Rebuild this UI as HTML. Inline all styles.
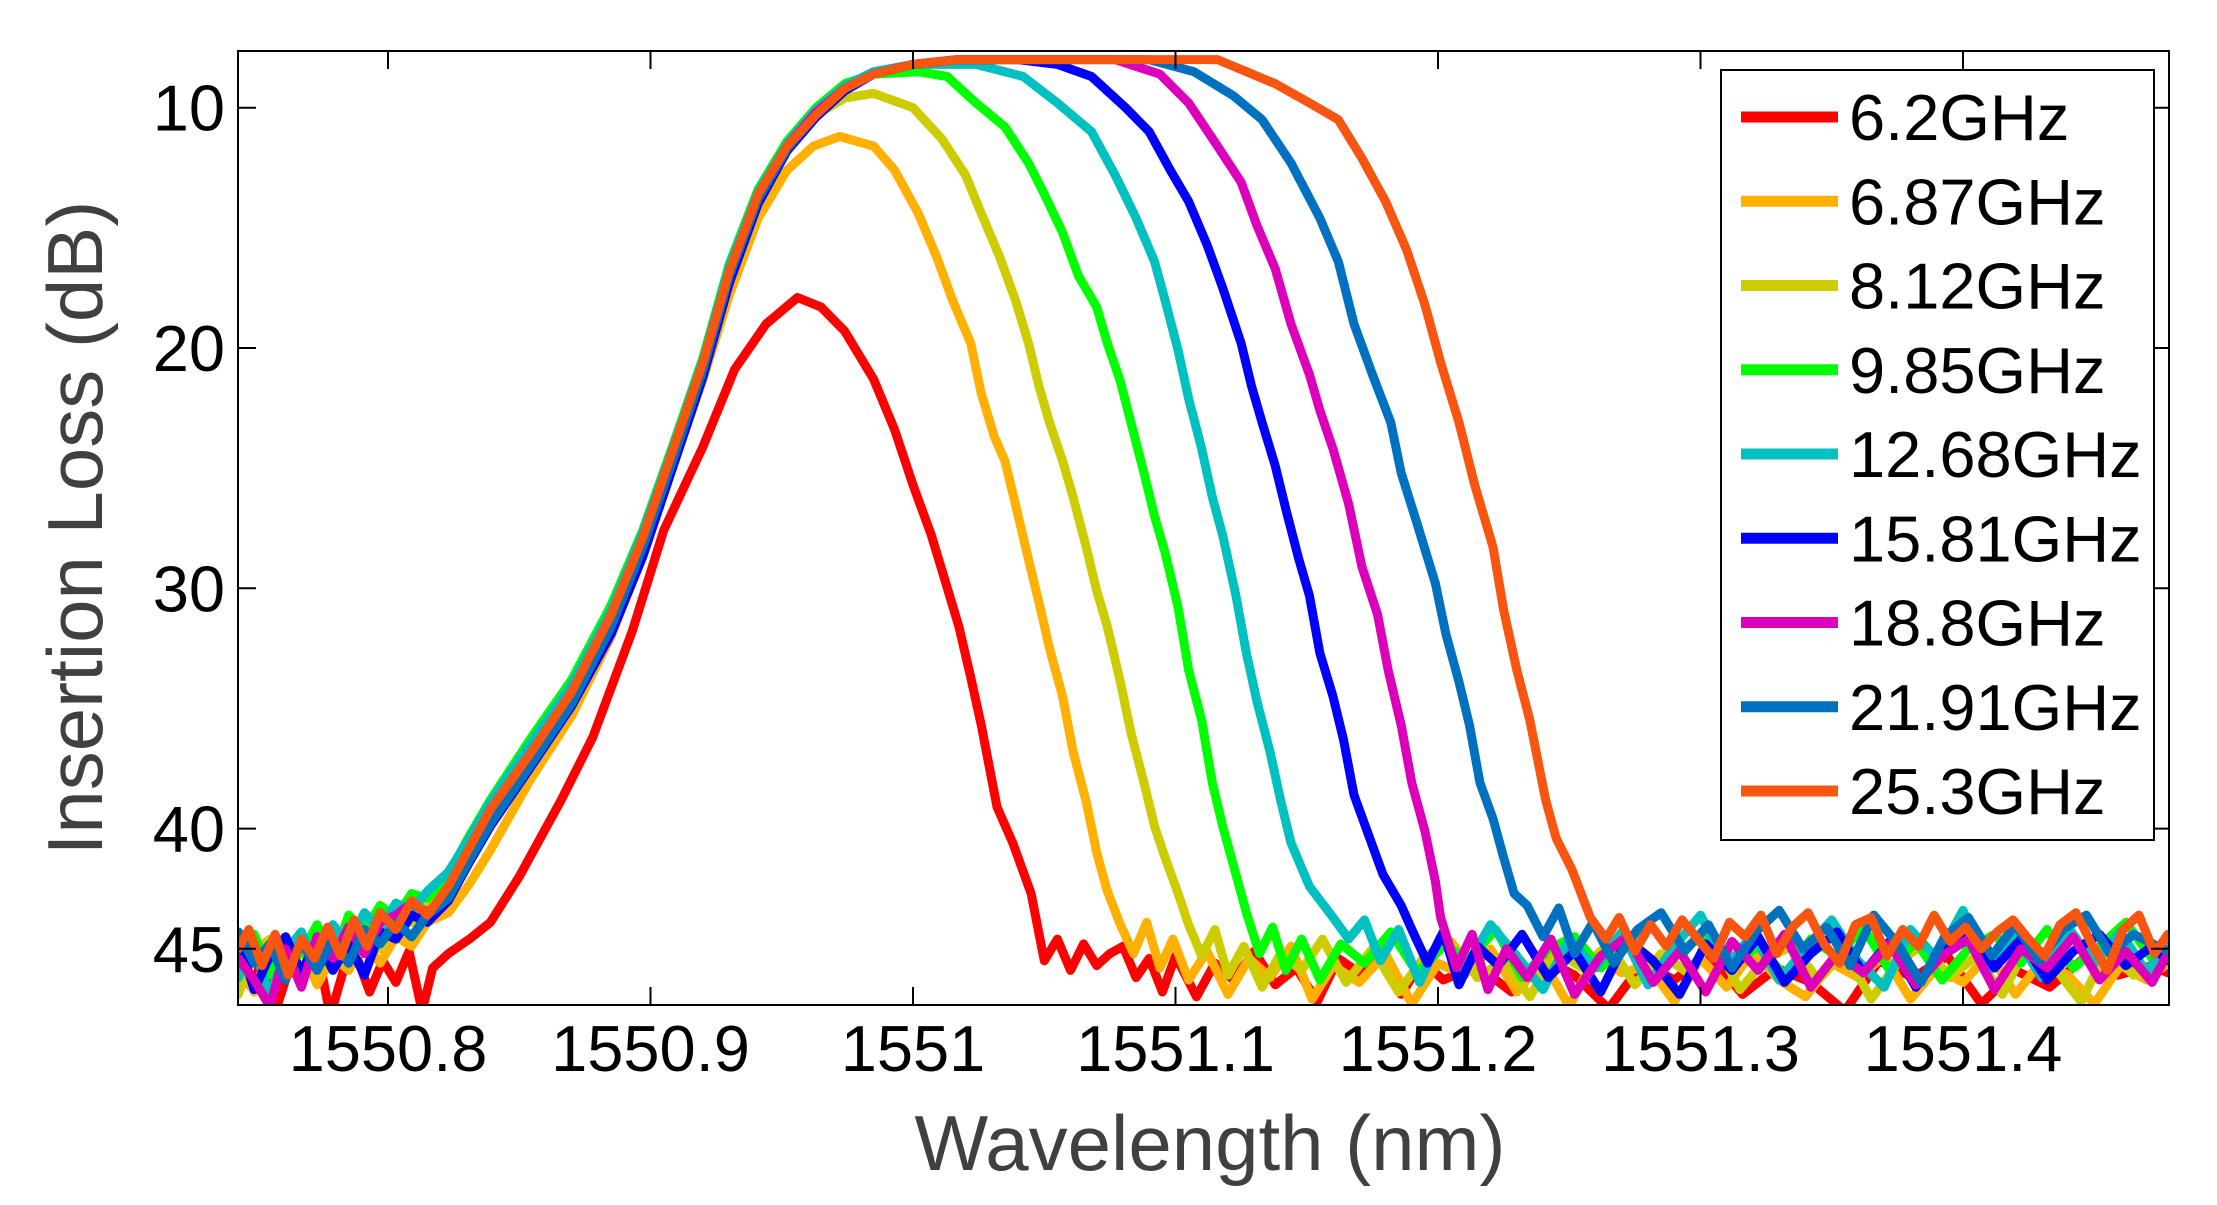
<!DOCTYPE html>
<html><head><meta charset="utf-8"><style>
html,body{margin:0;padding:0;background:#fff;}
svg{display:block;font-family:"Liberation Sans",Arial,sans-serif;}
</style></head><body>
<svg id="chart" width="2217" height="1205" viewBox="0 0 2217 1205" xmlns="http://www.w3.org/2000/svg">
<rect x="0" y="0" width="2217" height="1205" fill="#fff"/>
<g id="series"></g>
<g id="axes"></g>
<text transform="translate(102,528) rotate(-90)" text-anchor="middle" font-size="78" fill="#404040">Insertion Loss (dB)</text>
<text x="1210" y="1170" text-anchor="middle" font-size="78" fill="#404040">Wavelength (nm)</text>
<g id="legend"></g>
</svg>
<script>
const xTicks = [1550.8, 1550.9, 1551, 1551.1, 1551.2, 1551.3, 1551.4];
const xTickLabels = ["1550.8","1550.9","1551","1551.1","1551.2","1551.3","1551.4"];
const yTicks = [10, 20, 30, 40, 45];
const yTickLabels = ["10","20","30","40","45"];
const seriesNames = ["6.2GHz","6.87GHz","8.12GHz","9.85GHz","12.68GHz","15.81GHz","18.8GHz","21.91GHz","25.3GHz"];
const seriesColors = ["#ff0000","#ffb000","#cccc00","#00ff00","#00c0c0","#0000ff","#dd00bb","#0070c0","#f85510"];

const s1 = [[1550.743,45.8],[1550.748,46.6],[1550.753,45.2],[1550.758,47.3],[1550.763,45.6],[1550.768,46.2],[1550.773,45.0],[1550.778,47.8],[1550.783,45.9],[1550.788,45.3],[1550.793,46.8],[1550.798,45.5],[1550.803,46.4],[1550.808,45.1],[1550.813,47.6],[1550.817,45.8],[1550.823,45.2],[1550.831,44.6],[1550.839,43.9],[1550.850,42.0],[1550.866,38.8],[1550.878,36.2],[1550.893,31.8],[1550.905,27.6],[1550.920,24.1],[1550.932,20.9],[1550.944,19.0],[1550.956,17.9],[1550.965,18.3],[1550.974,19.3],[1550.985,21.3],[1550.993,23.4],[1551.0,25.7],[1551.007,27.8],[1551.012,29.6],[1551.0175,31.6],[1551.022,33.7],[1551.026,35.7],[1551.032,39.1],[1551.038,40.6],[1551.045,42.7],[1551.050,45.5],[1551.055,44.6],[1551.060,45.9],[1551.065,44.8],[1551.070,45.7],[1551.075,45.2],[1551.080,44.9],[1551.085,46.2],[1551.090,45.4],[1551.095,46.8],[1551.100,45.3],[1551.108,47.0],[1551.115,45.6],[1551.122,46.3],[1551.130,45.1],[1551.138,46.5],[1551.146,45.8],[1551.154,47.2],[1551.162,45.4],[1551.170,46.0],[1551.178,45.2],[1551.186,46.9],[1551.194,45.5],[1551.202,46.3],[1551.215,45.7],[1551.228,46.8],[1551.240,45.4],[1551.252,46.1],[1551.265,47.5],[1551.278,45.6],[1551.290,46.3],[1551.303,45.2],[1551.316,46.9],[1551.329,45.8],[1551.342,46.4],[1551.355,47.6],[1551.368,45.5],[1551.381,46.2],[1551.394,45.3],[1551.407,47.3],[1551.420,45.9],[1551.433,46.6],[1551.446,45.4],[1551.459,46.1],[1551.472,45.7],[1551.478,46.0]];
const s2 = [[1550.743,45.5],[1550.749,46.8],[1550.755,45.0],[1550.761,46.2],[1550.767,44.9],[1550.773,46.5],[1550.779,45.3],[1550.785,45.9],[1550.791,44.7],[1550.797,45.6],[1550.803,44.5],[1550.809,44.9],[1550.815,43.9],[1550.823,43.5],[1550.831,42.3],[1550.839,40.9],[1550.854,38.0],[1550.870,35.3],[1550.885,32.0],[1550.897,28.6],[1550.909,24.8],[1550.920,21.3],[1550.930,17.8],[1550.941,14.6],[1550.952,12.6],[1550.962,11.6],[1550.972,11.2],[1550.985,11.6],[1550.993,12.6],[1551.002,14.4],[1551.009,16.2],[1551.015,18.0],[1551.022,19.8],[1551.026,21.9],[1551.031,23.7],[1551.035,24.7],[1551.039,26.5],[1551.044,28.8],[1551.048,30.6],[1551.052,32.5],[1551.057,34.5],[1551.061,36.8],[1551.066,38.9],[1551.070,41.0],[1551.074,42.6],[1551.079,44.0],[1551.084,45.2],[1551.089,43.9],[1551.094,45.8],[1551.099,44.6],[1551.105,46.3],[1551.112,45.1],[1551.120,46.9],[1551.128,45.4],[1551.136,46.2],[1551.144,44.9],[1551.152,47.1],[1551.160,45.7],[1551.170,46.4],[1551.180,45.2],[1551.190,47.3],[1551.200,45.6],[1551.210,46.1],[1551.220,45.0],[1551.230,46.8],[1551.240,45.5],[1551.250,47.4],[1551.260,45.3],[1551.270,46.0],[1551.280,45.7],[1551.290,47.2],[1551.300,45.4],[1551.310,46.6],[1551.320,45.1],[1551.330,46.3],[1551.340,47.0],[1551.350,45.6],[1551.360,46.2],[1551.370,45.3],[1551.380,47.1],[1551.390,45.8],[1551.400,46.4],[1551.410,45.2],[1551.420,46.9],[1551.430,45.5],[1551.440,46.1],[1551.450,47.3],[1551.460,45.7],[1551.470,46.3],[1551.478,45.6]];
const s3 = [[1550.743,46.9],[1550.749,45.1],[1550.755,44.6],[1550.761,46.0],[1550.767,44.8],[1550.773,45.7],[1550.779,44.3],[1550.785,45.4],[1550.791,44.1],[1550.797,45.0],[1550.803,43.8],[1550.809,43.9],[1550.815,43.0],[1550.823,42.6],[1550.831,41.0],[1550.839,39.5],[1550.854,37.1],[1550.870,34.5],[1550.885,31.3],[1550.897,28.0],[1550.909,24.2],[1550.920,20.7],[1550.930,16.9],[1550.941,13.8],[1550.952,11.7],[1550.963,10.3],[1550.974,9.6],[1550.985,9.4],[1551.0,10.0],[1551.011,11.3],[1551.020,12.8],[1551.026,14.4],[1551.033,16.2],[1551.039,18.0],[1551.044,19.8],[1551.048,21.6],[1551.052,23.1],[1551.057,24.7],[1551.061,26.2],[1551.066,28.3],[1551.070,30.1],[1551.074,31.6],[1551.079,33.9],[1551.083,36.0],[1551.088,38.1],[1551.092,39.9],[1551.096,41.2],[1551.101,42.7],[1551.105,44.0],[1551.110,45.3],[1551.115,44.2],[1551.120,46.1],[1551.126,44.9],[1551.133,46.6],[1551.140,45.2],[1551.148,45.9],[1551.156,44.6],[1551.165,46.4],[1551.175,45.0],[1551.185,46.8],[1551.195,45.3],[1551.205,44.7],[1551.215,46.2],[1551.225,45.5],[1551.235,47.0],[1551.245,45.1],[1551.255,45.8],[1551.265,44.8],[1551.275,46.5],[1551.285,45.2],[1551.295,46.0],[1551.305,44.6],[1551.315,46.7],[1551.325,45.4],[1551.335,44.9],[1551.345,46.3],[1551.355,45.1],[1551.365,47.1],[1551.375,45.6],[1551.385,44.8],[1551.395,46.2],[1551.405,45.3],[1551.415,46.9],[1551.425,44.7],[1551.435,45.8],[1551.445,47.2],[1551.455,45.0],[1551.465,46.1],[1551.478,45.4]];
const s4 = [[1550.743,45.9],[1550.749,44.4],[1550.755,46.1],[1550.761,44.7],[1550.767,45.2],[1550.773,44.0],[1550.779,45.6],[1550.785,43.6],[1550.791,44.3],[1550.797,43.2],[1550.803,43.7],[1550.809,42.7],[1550.815,42.9],[1550.823,41.9],[1550.831,40.3],[1550.839,38.8],[1550.854,36.3],[1550.870,33.8],[1550.885,30.7],[1550.897,27.6],[1550.909,23.9],[1550.920,20.4],[1550.930,16.5],[1550.941,13.4],[1550.952,11.4],[1550.963,10.0],[1550.974,9.0],[1550.985,8.6],[1551.002,8.5],[1551.013,8.7],[1551.024,9.8],[1551.035,10.8],[1551.044,12.3],[1551.050,13.6],[1551.057,15.2],[1551.063,17.0],[1551.070,18.3],[1551.074,19.8],[1551.079,21.4],[1551.083,23.1],[1551.088,25.2],[1551.092,27.0],[1551.096,28.5],[1551.101,30.8],[1551.105,33.4],[1551.110,35.5],[1551.114,38.1],[1551.118,39.9],[1551.123,41.9],[1551.127,43.5],[1551.132,45.2],[1551.137,44.1],[1551.142,45.9],[1551.148,44.6],[1551.155,46.3],[1551.163,44.8],[1551.172,45.6],[1551.182,44.3],[1551.192,46.0],[1551.202,44.9],[1551.212,45.4],[1551.222,44.2],[1551.232,46.2],[1551.242,45.0],[1551.252,44.5],[1551.262,45.8],[1551.272,44.7],[1551.282,46.4],[1551.292,45.1],[1551.302,44.4],[1551.312,45.7],[1551.322,44.9],[1551.332,46.1],[1551.342,44.6],[1551.352,45.3],[1551.362,44.1],[1551.372,45.9],[1551.382,44.7],[1551.392,46.3],[1551.402,45.0],[1551.412,44.4],[1551.422,45.6],[1551.432,44.2],[1551.442,45.8],[1551.452,44.9],[1551.462,43.9],[1551.472,45.4],[1551.478,44.8]];
const s5 = [[1550.743,46.2],[1550.749,44.9],[1550.755,47.0],[1550.761,45.1],[1550.767,44.3],[1550.773,45.8],[1550.779,44.0],[1550.785,44.9],[1550.791,43.5],[1550.797,44.2],[1550.803,43.1],[1550.809,43.4],[1550.815,42.6],[1550.823,41.8],[1550.831,40.4],[1550.839,38.9],[1550.854,36.5],[1550.870,34.0],[1550.885,30.9],[1550.897,27.7],[1550.909,24.0],[1550.920,20.5],[1550.930,16.6],[1550.941,13.5],[1550.952,11.5],[1550.963,10.1],[1550.974,9.1],[1550.985,8.5],[1551.0,8.2],[1551.024,8.2],[1551.042,8.7],[1551.055,9.8],[1551.068,11.0],[1551.077,12.8],[1551.085,14.6],[1551.092,16.4],[1551.096,18.0],[1551.101,20.1],[1551.105,22.1],[1551.110,24.2],[1551.114,26.2],[1551.118,27.8],[1551.123,30.3],[1551.127,32.7],[1551.131,34.7],[1551.136,36.8],[1551.140,38.8],[1551.144,40.6],[1551.151,42.4],[1551.160,43.7],[1551.166,44.6],[1551.172,43.8],[1551.178,45.5],[1551.185,44.2],[1551.193,46.4],[1551.201,44.5],[1551.210,45.9],[1551.220,44.0],[1551.230,45.3],[1551.240,46.7],[1551.250,44.6],[1551.260,45.8],[1551.270,44.3],[1551.280,46.5],[1551.290,44.9],[1551.300,43.6],[1551.310,45.7],[1551.320,44.4],[1551.330,46.3],[1551.340,45.0],[1551.350,43.8],[1551.360,45.5],[1551.370,46.6],[1551.380,44.2],[1551.390,45.4],[1551.400,43.4],[1551.410,45.9],[1551.420,44.5],[1551.430,46.2],[1551.440,44.1],[1551.450,45.6],[1551.460,44.3],[1551.470,46.0],[1551.478,44.7]];
const s6 = [[1550.743,44.6],[1550.749,46.7],[1550.755,45.3],[1550.761,44.5],[1550.767,46.0],[1550.773,44.6],[1550.779,45.9],[1550.785,44.8],[1550.791,46.1],[1550.797,44.3],[1550.803,44.6],[1550.809,43.6],[1550.815,43.9],[1550.823,43.0],[1550.831,41.4],[1550.839,39.9],[1550.854,37.5],[1550.870,34.9],[1550.885,31.9],[1550.897,28.7],[1550.909,24.8],[1550.920,21.2],[1550.930,17.3],[1550.941,14.0],[1550.952,11.8],[1550.963,10.4],[1550.974,9.3],[1550.985,8.6],[1551.0,8.2],[1551.017,8.0],[1551.040,8.0],[1551.055,8.2],[1551.068,8.7],[1551.081,10.0],[1551.090,11.0],[1551.098,12.6],[1551.105,13.9],[1551.112,15.7],[1551.118,17.5],[1551.125,19.8],[1551.129,21.6],[1551.133,23.1],[1551.138,24.9],[1551.142,26.7],[1551.147,28.8],[1551.151,30.3],[1551.155,32.7],[1551.160,34.5],[1551.164,36.3],[1551.168,38.6],[1551.173,40.1],[1551.179,41.9],[1551.186,43.2],[1551.190,44.2],[1551.196,45.6],[1551.202,44.3],[1551.208,46.5],[1551.215,44.9],[1551.223,45.7],[1551.232,44.4],[1551.242,46.2],[1551.252,45.1],[1551.262,46.8],[1551.272,44.6],[1551.282,45.5],[1551.292,46.9],[1551.302,44.8],[1551.312,45.9],[1551.322,44.5],[1551.332,46.4],[1551.342,45.2],[1551.352,44.3],[1551.362,46.0],[1551.372,44.7],[1551.382,46.6],[1551.392,45.0],[1551.402,44.2],[1551.412,45.8],[1551.422,44.6],[1551.432,46.3],[1551.442,45.1],[1551.452,44.4],[1551.462,45.7],[1551.472,44.9],[1551.478,45.5]];
const s7 = [[1550.743,45.4],[1550.749,46.3],[1550.755,47.4],[1550.761,45.0],[1550.767,46.6],[1550.773,44.5],[1550.779,45.4],[1550.785,44.1],[1550.791,45.2],[1550.797,43.9],[1550.803,43.6],[1550.809,43.1],[1550.815,43.5],[1550.823,42.7],[1550.831,41.1],[1550.839,39.6],[1550.854,37.2],[1550.870,34.6],[1550.885,31.4],[1550.897,28.1],[1550.909,24.3],[1550.920,20.8],[1550.930,16.9],[1550.941,13.7],[1550.952,11.6],[1550.963,10.2],[1550.974,9.2],[1550.985,8.6],[1551.0,8.2],[1551.017,8.0],[1551.077,8.0],[1551.094,8.6],[1551.105,9.8],[1551.116,11.6],[1551.125,13.1],[1551.131,14.9],[1551.138,16.7],[1551.144,19.0],[1551.151,21.1],[1551.155,22.6],[1551.160,24.2],[1551.166,26.5],[1551.171,29.1],[1551.177,31.1],[1551.181,33.4],[1551.186,35.7],[1551.190,38.1],[1551.195,40.1],[1551.199,42.2],[1551.201,43.7],[1551.207,45.8],[1551.213,44.4],[1551.219,46.7],[1551.226,45.0],[1551.234,46.2],[1551.243,44.6],[1551.252,46.9],[1551.262,45.3],[1551.272,44.5],[1551.282,46.4],[1551.292,45.1],[1551.302,46.8],[1551.312,44.7],[1551.322,45.9],[1551.332,44.4],[1551.342,46.6],[1551.352,45.2],[1551.362,46.0],[1551.372,44.8],[1551.382,46.5],[1551.392,45.3],[1551.402,44.6],[1551.412,46.7],[1551.422,45.0],[1551.432,45.8],[1551.442,44.5],[1551.452,46.3],[1551.462,45.1],[1551.472,46.4],[1551.478,45.2]];
const s8 = [[1550.743,44.3],[1550.749,45.6],[1550.755,44.8],[1550.761,46.3],[1550.767,44.7],[1550.773,45.9],[1550.779,44.6],[1550.785,45.6],[1550.791,44.2],[1550.797,44.8],[1550.803,43.9],[1550.809,44.5],[1550.815,43.6],[1550.823,42.9],[1550.831,41.3],[1550.839,39.8],[1550.854,37.4],[1550.870,34.8],[1550.885,31.6],[1550.897,28.3],[1550.909,24.5],[1550.920,20.9],[1550.930,17.0],[1550.941,13.8],[1550.952,11.7],[1550.963,10.3],[1550.974,9.2],[1550.985,8.6],[1551.0,8.2],[1551.017,8.0],[1551.090,8.0],[1551.107,8.5],[1551.122,9.5],[1551.133,10.5],[1551.144,12.3],[1551.155,14.6],[1551.162,16.4],[1551.168,19.0],[1551.175,21.1],[1551.182,23.1],[1551.186,25.2],[1551.192,27.3],[1551.199,29.8],[1551.203,31.9],[1551.208,33.9],[1551.212,35.7],[1551.216,38.1],[1551.221,39.6],[1551.225,41.2],[1551.229,42.7],[1551.234,43.2],[1551.240,44.5],[1551.246,43.3],[1551.252,45.2],[1551.259,43.9],[1551.267,45.6],[1551.276,44.2],[1551.285,43.5],[1551.294,45.1],[1551.303,44.0],[1551.312,45.8],[1551.321,44.3],[1551.330,43.4],[1551.339,45.0],[1551.348,44.1],[1551.357,45.7],[1551.366,43.6],[1551.375,44.8],[1551.384,46.4],[1551.393,44.5],[1551.402,43.7],[1551.411,45.3],[1551.420,44.0],[1551.429,45.5],[1551.438,44.2],[1551.447,43.6],[1551.456,45.2],[1551.465,44.4],[1551.478,45.1]];
const s9 = [[1550.743,45.0],[1550.747,44.2],[1550.752,45.7],[1550.757,44.4],[1550.762,46.1],[1550.767,44.6],[1550.772,45.4],[1550.777,44.1],[1550.782,45.3],[1550.787,43.8],[1550.792,44.9],[1550.797,43.5],[1550.803,44.2],[1550.809,43.0],[1550.815,43.6],[1550.823,42.4],[1550.831,40.8],[1550.839,39.2],[1550.854,36.9],[1550.870,34.3],[1550.885,31.1],[1550.897,27.9],[1550.909,24.1],[1550.920,20.6],[1550.930,16.8],[1550.941,13.6],[1550.952,11.6],[1550.963,10.3],[1550.974,9.2],[1550.985,8.6],[1551.0,8.2],[1551.017,8.0],[1551.116,8.0],[1551.127,8.5],[1551.138,9.0],[1551.151,9.8],[1551.162,10.5],[1551.171,12.1],[1551.180,13.9],[1551.188,15.9],[1551.195,18.2],[1551.201,20.6],[1551.208,23.1],[1551.214,25.7],[1551.221,28.3],[1551.225,30.9],[1551.230,33.4],[1551.235,35.5],[1551.241,38.8],[1551.245,40.4],[1551.251,41.7],[1551.258,43.7],[1551.264,44.6],[1551.269,43.7],[1551.275,45.1],[1551.281,44.0],[1551.287,44.9],[1551.293,43.8],[1551.299,44.6],[1551.305,45.4],[1551.311,43.9],[1551.317,44.5],[1551.323,43.6],[1551.329,45.2],[1551.335,44.1],[1551.341,43.5],[1551.347,44.8],[1551.353,45.6],[1551.359,44.0],[1551.365,43.7],[1551.371,45.3],[1551.377,44.2],[1551.383,44.9],[1551.389,43.6],[1551.395,44.7],[1551.401,44.1],[1551.407,45.0],[1551.413,44.3],[1551.419,43.8],[1551.425,44.6],[1551.431,45.3],[1551.437,44.0],[1551.443,43.5],[1551.449,44.8],[1551.455,45.9],[1551.461,44.2],[1551.467,43.6],[1551.473,45.2],[1551.478,44.4]];
const allSeries = [s1, s2, s3, s4, s5, s6, s7, s8, s9];

const NS = "http://www.w3.org/2000/svg";
const PL = 238, PR = 2169, PT = 51, PB = 1005;
const X0 = 1550.8, XPX0 = 388, XSCALE = 2625;
const Y0 = 10, YPX0 = 107.7, YSCALE = 24.03;
function xScale(v){ return XPX0 + (v - X0) * XSCALE; }
function yScale(v){ return YPX0 + (v - Y0) * YSCALE; }

const svg = document.getElementById('chart');
const defs = document.createElementNS(NS, 'defs');
defs.innerHTML = '<clipPath id="plotclip"><rect x="'+PL+'" y="'+PT+'" width="'+(PR-PL)+'" height="'+(PB-PT)+'"/></clipPath>';
svg.insertBefore(defs, svg.firstChild);

const gS = document.getElementById('series');
gS.setAttribute('clip-path', 'url(#plotclip)');
allSeries.forEach(function(s, i){
  const p = document.createElementNS(NS, 'path');
  let d = '';
  s.forEach(function(pt, j){ d += (j ? 'L' : 'M') + xScale(pt[0]).toFixed(1) + ',' + yScale(pt[1]).toFixed(1); });
  p.setAttribute('d', d);
  p.setAttribute('fill', 'none');
  p.setAttribute('stroke', seriesColors[i]);
  p.setAttribute('stroke-width', '9');
  p.setAttribute('stroke-linejoin', 'round');
  p.setAttribute('stroke-linecap', 'round');
  
  
  gS.appendChild(p);
});

const gA = document.getElementById('axes');
function mk(tag, attrs){ const e = document.createElementNS(NS, tag); for (const k in attrs) e.setAttribute(k, attrs[k]); return e; }
const frame = mk('rect', {x: PL, y: PT, width: PR-PL, height: PB-PT, fill: 'none', stroke: '#000', 'stroke-width': 2});


gA.appendChild(frame);
xTicks.forEach(function(v, i){
  const x = xScale(v);
  const t1 = mk('line', {x1: x, x2: x, y1: PB, y2: PB-18, stroke: '#000', 'stroke-width': 2});
  
  
  gA.appendChild(t1);
  const t2 = mk('line', {x1: x, x2: x, y1: PT, y2: PT+18, stroke: '#000', 'stroke-width': 2});
  
  
  gA.appendChild(t2);
  const lb = mk('text', {x: x, y: 1071, 'text-anchor': 'middle', 'font-size': 65, fill: '#000'});
  lb.textContent = xTickLabels[i];
  
  
  gA.appendChild(lb);
});
yTicks.forEach(function(v, i){
  const y = yScale(v);
  const t1 = mk('line', {x1: PL, x2: PL+18, y1: y, y2: y, stroke: '#000', 'stroke-width': 2});
  
  
  gA.appendChild(t1);
  const t2 = mk('line', {x1: PR, x2: PR-18, y1: y, y2: y, stroke: '#000', 'stroke-width': 2});
  
  
  gA.appendChild(t2);
  const lb = mk('text', {x: 225, y: y + 23, 'text-anchor': 'end', 'font-size': 65, fill: '#000'});
  lb.textContent = yTickLabels[i];
  
  
  gA.appendChild(lb);
});

const gL = document.getElementById('legend');
const lbox = mk('rect', {x: 1721, y: 70, width: 433, height: 770, fill: '#fff', stroke: '#000', 'stroke-width': 2});


gL.appendChild(lbox);
seriesNames.forEach(function(n, i){
  const cy = 117 + i * 84.25;
  const ln = mk('line', {x1: 1741, x2: 1838, y1: cy, y2: cy, stroke: seriesColors[i], 'stroke-width': 11});
  
  
  gL.appendChild(ln);
  const tx = mk('text', {x: 1849, y: cy + 23, 'font-size': 65, fill: '#000'});
  tx.textContent = n;
  
  
  gL.appendChild(tx);
});
</script>
</body></html>
